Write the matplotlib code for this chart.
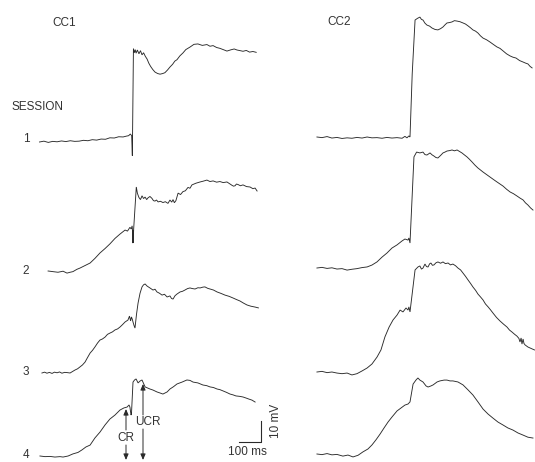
import matplotlib
matplotlib.use('Agg')
import matplotlib.pyplot as plt

# ---------------- data: time (ms, 0 = US onset) and potential (mV) ----------------
cc1_s1_t = [-425,-405,-385,-365,-345,-325,-305,-285,-265,-245,-225,-205,-185,-165,-145,-125,-105,-85,-65,-45,
            -30,-20,-12,-6,-3,2,6,10,14,20,27,34,41,48,56,64,72,80,90,100,112,123,135,145,157,168,180,190,200,213,
            227,240,259,277,295,315,336,350,364,380,395,410,427,445,460,473,487,500,515,530,545,560]
cc1_s1_v = [0.0,0.4,-0.2,0.3,0.1,0.5,0.2,0.6,0.3,0.4,0.8,0.6,1.1,0.9,1.4,1.3,2.0,1.9,2.5,2.4,
            2.8,3.0,3.8,3.0,-6.5,44.5,42.5,44.0,42.3,43.8,42.0,43.5,41.5,42.5,40.8,39.5,37.5,36.0,34.5,33.3,
            32.6,32.3,32.6,33.0,34.3,35.7,37.0,38.5,39.2,41.0,42.4,44.0,45.2,46.5,46.7,46.0,46.4,45.6,45.9,45.0,
            44.6,44.0,43.3,43.9,44.3,43.8,43.5,43.2,43.6,42.8,43.1,42.7]

cc1_s2_t = [-386,-364,-341,-318,-300,-286,-273,-255,-241,-218,-195,-173,-150,-127,-105,-82,-59,-36,-25,-14,
            -8,-4,-2,-1,0,1,3,15,20,27,34,41,48,55,62,68,77,86,93,100,107,114,125,136,147,159,168,176,182,188,
            195,205,216,227,238,250,259,268,286,305,320,336,350,364,380,395,410,427,440,450,457,464,470,477,488,
            500,516,532,545,555,564]
cc1_s2_v = [0.0,-0.3,-0.6,-0.1,-1.0,-0.6,-0.3,0.8,1.4,2.6,3.8,6.0,8.6,10.7,12.9,15.5,17.6,19.5,19.0,20.8,
            20.0,21.5,19.0,13.3,19.5,13.5,20.0,40.0,37.0,35.0,34.0,35.8,34.5,35.2,34.0,34.8,35.5,34.6,33.5,33.3,
            33.8,32.9,33.2,32.6,33.0,32.2,33.8,32.8,34.0,32.5,33.5,37.1,36.4,37.8,38.2,39.8,39.4,41.0,41.8,42.4,
            42.8,43.3,42.6,42.9,42.3,42.6,42.1,42.4,41.5,40.8,40.4,40.6,41.4,41.2,40.6,41.0,40.2,40.0,39.2,39.5,38.1]

cc1_s3_t = [-414,-402,-391,-380,-368,-357,-345,-334,-323,-311,-300,-286,-275,-264,-252,-241,-230,-218,-207,-195,
            -184,-173,-161,-150,-139,-127,-116,-105,-93,-82,-70,-59,-48,-36,-23,-16,-11,-7,-3,0,5,9,16,23,32,41,
            48,55,64,77,91,100,109,120,132,143,155,168,175,182,191,200,214,225,236,248,259,270,282,295,305,318,
            327,340,350,366,382,400,418,437,455,470,486,502,518,536,555,570]
cc1_s3_v = [0.0,0.4,-0.1,0.3,-0.2,0.4,0.1,0.5,-0.1,0.3,0.2,0.0,0.7,1.4,2.0,2.9,3.8,5.2,7.3,9.5,
            10.8,12.4,14.3,15.7,16.2,17.1,18.4,19.0,19.6,20.5,21.0,21.9,23.0,24.3,25.2,27.1,24.8,26.7,25.5,24.3,
            22.5,21.4,28.0,33.3,38.0,41.0,42.0,42.4,41.4,40.5,39.5,39.9,38.6,38.0,37.1,37.5,36.2,36.7,35.5,35.2,
            36.8,37.6,38.6,38.9,39.5,40.2,40.5,40.2,40.0,40.6,40.5,40.9,41.0,40.3,40.0,39.5,38.6,37.9,37.1,36.5,
            35.7,35.0,34.3,33.3,32.4,31.8,31.4,31.0]

cc1_s4_t = [-423,-400,-377,-355,-332,-318,-295,-273,-250,-232,-214,-195,-173,-150,-127,-105,-82,-59,-41,-27,
            -18,-14,-9,-7,0,7,14,23,32,41,55,66,77,91,109,123,136,155,168,184,200,223,245,259,273,295,318,335,
            350,366,382,395,409,425,441,455,468,485,500,514,527,541,555]
cc1_s4_v = [0.0,-0.3,-0.2,-0.5,-0.3,-0.5,0.0,1.0,1.7,2.9,4.3,5.2,8.6,11.4,14.8,17.6,19.5,21.9,22.9,23.3,
            24.3,23.3,19.5,20.0,35.2,36.2,36.7,34.8,35.7,36.2,32.9,32.4,31.9,31.4,30.5,30.0,29.5,30.5,31.9,33.0,
            34.3,35.2,36.2,36.0,35.2,34.8,33.8,33.5,32.9,32.6,31.9,31.6,31.0,30.3,29.5,29.1,28.6,28.4,28.1,27.6,
            27.1,26.6,25.7]

cc2_s1_t = [-423,-400,-377,-355,-332,-309,-286,-264,-241,-218,-195,-173,-150,-127,-105,-82,-59,-36,-23,-14,
            -5,0,10,23,34,45,52,59,68,77,89,100,114,127,139,150,159,168,180,191,202,214,227,241,252,264,275,286,
            298,309,320,332,348,364,380,395,409,423,439,455,468,482,498,514,525,536,546,555]
cc2_s1_v = [0.0,-0.3,0.2,-0.5,-0.2,-0.7,-0.4,-0.6,-0.2,-0.5,0.0,-0.4,-0.3,-0.6,-0.2,-0.5,-0.3,-0.6,0.3,-0.4,
            0.5,0.0,30.0,55.7,56.5,57.1,56.0,55.7,54.2,53.3,52.8,51.9,51.2,51.0,51.6,52.4,53.4,54.3,54.5,54.8,
            55.4,55.2,54.9,54.3,53.8,52.9,52.0,51.0,50.4,49.5,48.2,47.1,46.3,45.2,44.0,42.9,42.2,41.0,39.6,38.6,
            38.0,37.6,36.4,35.7,35.2,34.8,33.6,32.9]

cc2_s2_t = [-423,-400,-377,-355,-332,-309,-286,-264,-241,-218,-195,-173,-150,-127,-105,-82,-59,-36,-23,-9,
            -5,0,18,30,45,59,68,77,91,100,109,118,127,139,150,159,168,180,191,202,214,225,236,248,259,270,282,
            295,309,320,332,348,364,380,395,409,423,439,455,470,486,500,514,525,536,548,559]
cc2_s2_v = [0.0,0.3,-0.2,0.1,-0.5,-0.3,-1.0,-0.6,-0.3,0.2,0.5,1.4,2.9,5.2,7.1,9.5,11.0,12.9,13.8,13.3,
            14.3,11.9,52.9,55.2,54.8,55.2,54.0,53.8,54.8,53.9,53.3,52.6,52.4,53.6,54.8,55.2,55.7,55.9,56.2,55.8,
            56.2,55.5,54.8,53.8,52.9,51.8,50.5,49.0,47.6,46.7,45.7,44.5,43.3,42.1,41.0,40.0,39.0,37.5,36.2,35.4,
            34.3,33.3,32.4,31.0,30.0,28.6,27.6]

cc2_s3_t = [-423,-400,-377,-355,-332,-309,-286,-264,-241,-218,-195,-173,-150,-132,-114,-95,-77,-59,-45,-32,
            -18,-9,-5,0,23,36,45,52,59,68,75,82,89,95,102,109,118,127,139,150,161,173,184,195,207,218,230,241,
            252,264,275,286,298,309,320,332,343,355,366,377,393,409,425,441,452,464,475,486,495,500,505,509,514,
            518,523,536,555,566]
cc2_s3_v = [0.0,0.3,-0.3,0.0,-0.5,-0.8,-0.5,-1.4,-0.8,0.5,1.9,3.8,7.1,10.5,16.7,21.4,24.8,27.1,29.5,28.6,
            30.5,29.5,31.0,28.6,48.6,50.0,50.5,49.0,49.5,51.4,50.2,50.0,51.5,51.9,50.8,51.0,52.0,52.4,51.8,52.4,
            51.6,51.9,51.0,51.4,50.6,49.5,48.6,47.1,45.6,43.8,42.2,40.5,38.9,37.1,35.8,34.3,32.4,31.0,29.6,28.1,
            26.0,24.3,22.8,21.4,20.0,19.0,18.0,17.1,16.0,14.3,16.2,13.3,15.7,13.6,12.9,11.9,11.0,10.5]

cc2_s4_t = [-423,-400,-377,-355,-332,-305,-282,-259,-236,-214,-191,-173,-155,-136,-118,-100,-82,-59,-41,-23,
            -9,0,14,27,36,45,59,73,82,95,105,123,136,155,168,182,195,218,241,264,286,309,332,355,377,400,423,
            445,468,491,514,536,559]
cc2_s4_v = [0.0,-0.3,0.2,-0.4,-0.2,-1.0,-0.5,-1.4,-0.6,1.0,2.4,4.3,6.7,9.5,12.4,15.2,17.6,20.5,21.9,23.3,
            23.8,24.8,33.3,35.2,36.2,35.2,34.3,32.4,31.9,32.4,32.9,34.3,34.8,35.2,35.2,34.8,34.8,34.3,32.9,30.5,
            28.1,24.8,21.4,19.0,17.1,15.2,13.8,12.4,11.4,10.0,9.0,8.0,7.6]

column_titles = ["CC1", "CC2"]
session_labels = ["1", "2", "3", "4"]

# ---------------- layout ----------------
W, H = 535, 462
MS_PER_PX = 100 / 22.0
PX_PER_MV = 2.1
fig = plt.figure(figsize=(W / 100, H / 100), dpi=100)
fig.patch.set_facecolor('white')

def col_axes(x0, x1, stim_px):
    ax = fig.add_axes([x0 / W, 0, (x1 - x0) / W, 1])
    ax.set_xlim((x0 - stim_px) * MS_PER_PX, (x1 - stim_px) * MS_PER_PX)
    ax.set_ylim(-H / PX_PER_MV, 0)
    ax.axis('off')
    return ax

axL = col_axes(0, 270, 133)
axR = col_axes(270, 535, 410)

left_base_px = [142, 271, 373, 456]
right_base_px = [137, 268, 372, 454]
left = [(cc1_s1_t, cc1_s1_v), (cc1_s2_t, cc1_s2_v), (cc1_s3_t, cc1_s3_v), (cc1_s4_t, cc1_s4_v)]
right = [(cc2_s1_t, cc2_s1_v), (cc2_s2_t, cc2_s2_v), (cc2_s3_t, cc2_s3_v), (cc2_s4_t, cc2_s4_v)]

lc = '#2a2a2a'
for (t, v), b in zip(left, left_base_px):
    off = -b / PX_PER_MV
    axL.plot(t, [off + x for x in v], color=lc, lw=0.65, solid_joinstyle='miter', clip_on=False)
for (t, v), b in zip(right, right_base_px):
    off = -b / PX_PER_MV
    axR.plot(t, [off + x for x in v], color=lc, lw=0.65, solid_joinstyle='miter', clip_on=False)

# scale bar: 100 ms x 10 mV
sb_t0, sb_y0 = 482, -442 / PX_PER_MV
axL.plot([sb_t0, sb_t0 + 100, sb_t0 + 100], [sb_y0, sb_y0, sb_y0 + 10], color=lc, lw=0.8, clip_on=False)

# ---------------- text / annotations in pixel coordinates ----------------
ov = fig.add_axes([0, 0, 1, 1], zorder=5)
ov.set_xlim(0, W)
ov.set_ylim(H, 0)
ov.axis('off')
ov.patch.set_alpha(0)

fam = ['Liberation Sans', 'DejaVu Sans']
tc = '#333333'
fs = 8.5
ov.text(64, 23, column_titles[0], ha='center', va='center', fontsize=fs, family=fam, color=tc)
ov.text(339, 22, column_titles[1], ha='center', va='center', fontsize=fs, family=fam, color=tc)
ov.text(11, 107, "SESSION", ha='left', va='center', fontsize=fs, family=fam, color=tc)
for lab, y in zip(session_labels, [139, 271, 372, 455]):
    ov.text(26, y, lab, ha='center', va='center', fontsize=fs, family=fam, color=tc)

ov.text(247, 452, "100 ms", ha='center', va='center', fontsize=fs, family=fam, color=tc)
ov.text(276, 421, "10 mV", ha='center', va='center', rotation=90, fontsize=fs, family=fam, color=tc)

ov.text(126, 438, "CR", ha='center', va='center', fontsize=fs, family=fam, color=tc)
ov.text(148, 422, "UCR", ha='center', va='center', fontsize=fs, family=fam, color=tc)

ap = dict(arrowstyle='-|>,head_length=0.35,head_width=0.15', color=lc, lw=0.7, shrinkA=0, shrinkB=0)
ov.annotate('', xy=(126, 409), xytext=(126, 430), arrowprops=ap)
ov.annotate('', xy=(126, 460), xytext=(126, 445), arrowprops=ap)
ov.annotate('', xy=(143, 384), xytext=(143, 415), arrowprops=ap)
ov.annotate('', xy=(143, 460), xytext=(143, 429), arrowprops=ap)

fig.savefig('out.png', dpi=100, facecolor='white')
